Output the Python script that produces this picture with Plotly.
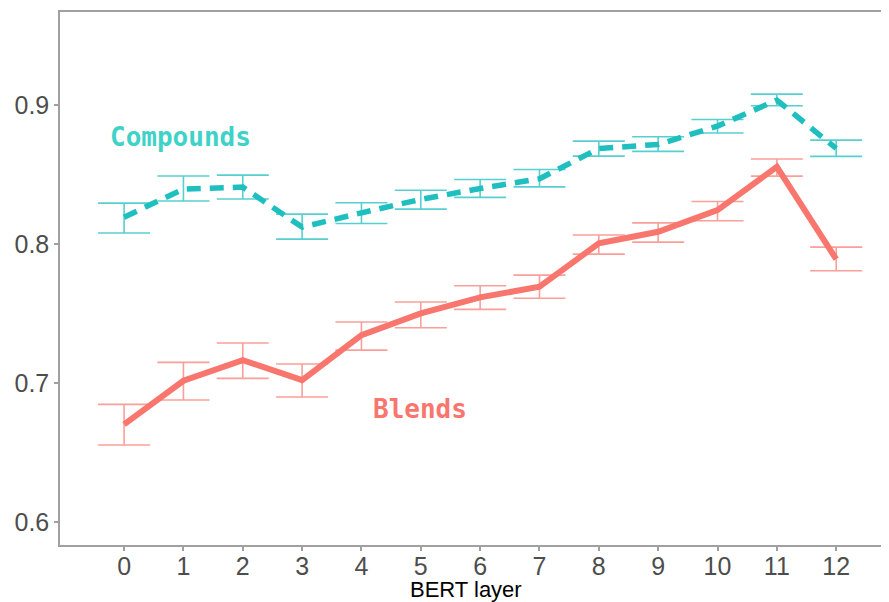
import plotly.graph_objects as go

layers = list(range(13))
tick_labels = [str(i) for i in layers]

compounds = [0.8194, 0.8396, 0.8410, 0.8122, 0.8225, 0.8322, 0.8400, 0.8470,
             0.8688, 0.8717, 0.8849, 0.9036, 0.8688]
compounds_hi = [0.8295, 0.8490, 0.8496, 0.8216, 0.8297, 0.8388, 0.8465, 0.8537,
                0.8741, 0.8772, 0.8897, 0.9079, 0.8748]
compounds_lo = [0.8080, 0.8310, 0.8324, 0.8036, 0.8148, 0.8252, 0.8336, 0.8412,
                0.8633, 0.8667, 0.8799, 0.8995, 0.8631]

blends = [0.6703, 0.7017, 0.7165, 0.7022, 0.7345, 0.7501, 0.7617, 0.7693,
          0.8005, 0.8089, 0.8245, 0.8556, 0.7892]
blends_hi = [0.6847, 0.7149, 0.7288, 0.7137, 0.7439, 0.7583, 0.7700, 0.7777,
             0.8065, 0.8153, 0.8307, 0.8612, 0.7978]
blends_lo = [0.6554, 0.6878, 0.7034, 0.6900, 0.7237, 0.7398, 0.7530, 0.7610,
             0.7928, 0.8014, 0.8168, 0.8489, 0.7808]

TEAL = "#1FBFC0"
RED = "#F8766D"

def up(v, hi):
    return [h - x for x, h in zip(v, hi)]

def down(v, lo):
    return [x - l for x, l in zip(v, lo)]

fig = go.Figure()

fig.add_trace(go.Scatter(
    x=layers, y=blends, mode="lines", name="Blends",
    line=dict(color=RED, width=6),
    error_y=dict(type="data", symmetric=False, array=up(blends, blends_hi),
                 arrayminus=down(blends, blends_lo),
                 color="rgba(248,118,109,0.7)", thickness=1.6, width=26),
))
fig.add_trace(go.Scatter(
    x=layers, y=compounds, mode="lines", name="Compounds",
    line=dict(color=TEAL, width=5.5, dash="14px,9px"),
    error_y=dict(type="data", symmetric=False, array=up(compounds, compounds_hi),
                 arrayminus=down(compounds, compounds_lo),
                 color="rgba(31,191,192,0.75)", thickness=1.6, width=26),
))

fig.add_annotation(x=0.95, y=0.877, xref="x", yref="y", text="<b>Compounds</b>",
                   showarrow=False, font=dict(family="DejaVu Sans Mono", size=26, color="#3ED2C8"))
fig.add_annotation(x=4.98, y=0.681, xref="x", yref="y", text="<b>Blends</b>",
                   showarrow=False, font=dict(family="DejaVu Sans Mono", size=26, color=RED))

fig.add_annotation(x=0.4897, y=-0.056, xref="paper", yref="paper", text="BERT layer",
                   showarrow=False, yanchor="top",
                   font=dict(family="Liberation Sans, Arial", size=22, color="black"))

fig.update_layout(
    width=881, height=594,
    margin=dict(l=52, r=0, t=4, b=57),
    paper_bgcolor="white", plot_bgcolor="white",
    showlegend=False,
    font=dict(family="Liberation Sans, Arial", color="#4D4D4D"),
)
fig.update_xaxes(
    range=[-1.08, 12.89], tickmode="array", tickvals=layers, ticktext=tick_labels,
    showgrid=False, zeroline=False, showline=True, linecolor="#A0A0A0", linewidth=1.5,
    mirror=True, ticks="outside", ticklen=4, tickcolor="#A0A0A0", tickwidth=1.5,
    tickfont=dict(size=25, color="#4D4D4D"), ticklabelstandoff=-6,
)
fig.update_yaxes(
    range=[0.5835, 0.967], tickvals=[0.6, 0.7, 0.8, 0.9],
    ticktext=["0.6", "0.7", "0.8", "0.9"],
    showgrid=False, zeroline=False, showline=True, linecolor="#A0A0A0", linewidth=1.5,
    ticks="outside", ticklen=4, tickcolor="#A0A0A0", tickwidth=1.5,
    tickfont=dict(size=25, color="#4D4D4D"),
)

fig.write_html("out.html")
